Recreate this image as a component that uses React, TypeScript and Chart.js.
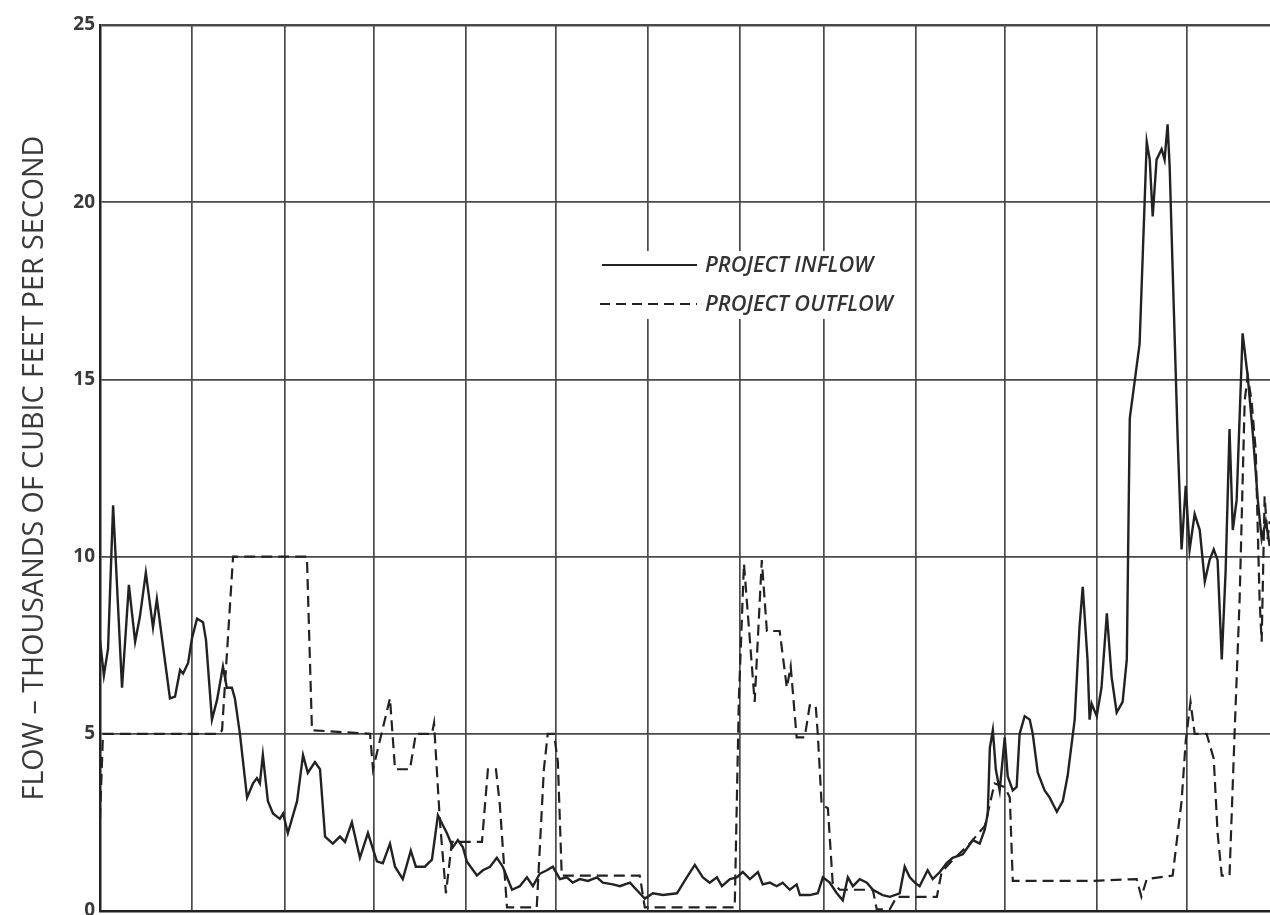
import React, { useEffect, useRef } from "react";
import { Chart, registerables } from "chart.js";

Chart.register(...registerables);

// Day index (0 = start of first month) and flow (thousands of cfs)
const inflowDays = [
  0.0, 1.3, 2.7, 4.4, 7.4, 9.7, 11.8, 13.4, 15.4, 17.8, 19.1, 21.2, 23.5, 25.2, 26.9, 27.9, 29.6, 30.9, 32.6, 34.6,
  35.6, 37.6, 39.3, 41.3, 42.6, 44.3, 45.3, 47.0, 49.4, 51.4, 52.7, 53.7, 54.7, 56.4, 58.1, 60.4, 61.5, 63.1, 66.2, 68.2,
  69.8, 72.2, 73.9, 75.6, 78.2, 80.6, 82.3, 84.6, 87.3, 90.0, 93.0, 95.0, 97.4, 99.1, 101.7, 104.4, 106.1, 109.1, 111.5, 113.5,
  116.5, 118.5, 120.2, 121.9, 123.2, 126.6, 128.6, 131.0, 133.3, 135.3, 138.4, 141.0, 143.4, 145.4, 147.7, 150.1, 152.1, 154.5, 156.8, 158.8,
  161.2, 163.9, 166.9, 168.9, 172.3, 174.6, 178.0, 181.3, 183.0, 185.7, 189.1, 193.8, 197.1, 199.8, 202.5, 204.8, 207.2, 208.9, 211.6, 213.9,
  215.9, 218.3, 221.0, 222.6, 225.0, 227.3, 229.3, 231.7, 234.0, 235.1, 238.4, 241.1, 242.8, 245.1, 247.5, 249.5, 251.2, 252.9, 255.2, 257.6,
  259.6, 262.9, 265.3, 268.6, 270.3, 272.0, 273.7, 275.3, 278.0, 279.7, 282.1, 284.4, 286.4, 289.8, 293.2, 295.5, 297.2, 298.2, 298.9, 299.9,
  300.9, 302.2, 303.9, 304.9, 306.6, 307.9, 308.9, 310.6, 312.3, 313.3, 315.0, 317.3, 319.0, 321.4, 323.4, 325.0, 327.4, 329.0, 330.1, 331.7,
  332.4, 333.1, 334.8, 336.4, 338.2, 339.8, 341.5, 343.5, 344.9, 345.9, 349.2, 351.6, 352.6, 353.6, 354.9, 356.6, 357.6, 358.6, 359.3, 360.3,
  362.0, 363.3, 364.7, 366.0, 367.7, 369.4, 371.1, 372.7, 374.1, 375.4, 376.8, 378.1, 379.4, 380.5, 381.8, 383.8, 385.5, 387.2, 388.9, 390.2,
  391.6, 392.9,
];
const inflowFlow = [
  7.65, 6.65, 7.4, 11.45, 6.3, 9.2, 7.6, 8.3, 9.55, 8.0, 8.8, 7.45, 6.0, 6.05, 6.8, 6.7, 7.0, 7.7, 8.25, 8.15,
  7.65, 5.4, 5.95, 6.9, 6.3, 6.3, 6.0, 5.0, 3.2, 3.6, 3.75, 3.6, 4.4, 3.1, 2.75, 2.6, 2.75, 2.2, 3.1, 4.4,
  3.9, 4.2, 4.0, 2.1, 1.9, 2.1, 1.95, 2.5, 1.5, 2.2, 1.4, 1.35, 1.9, 1.25, 0.9, 1.7, 1.25, 1.25, 1.45, 2.7,
  2.2, 1.8, 2.0, 1.8, 1.4, 1.0, 1.15, 1.25, 1.5, 1.25, 0.6, 0.7, 0.95, 0.7, 1.05, 1.15, 1.25, 0.9, 0.95, 0.8,
  0.9, 0.85, 0.95, 0.8, 0.75, 0.7, 0.8, 0.5, 0.35, 0.5, 0.45, 0.5, 0.95, 1.3, 0.95, 0.8, 0.95, 0.7, 0.9, 0.95,
  1.1, 0.9, 1.1, 0.75, 0.8, 0.7, 0.8, 0.6, 0.75, 0.45, 0.45, 0.5, 0.95, 0.8, 0.5, 0.3, 0.95, 0.7, 0.9, 0.8,
  0.6, 0.45, 0.4, 0.5, 1.25, 0.95, 0.8, 0.7, 1.15, 0.9, 1.1, 1.35, 1.5, 1.6, 2.0, 1.9, 2.3, 2.75, 4.6, 5.1,
  4.0, 3.4, 4.9, 3.8, 3.4, 3.5, 5.0, 5.5, 5.4, 5.0, 3.9, 3.4, 3.2, 2.8, 3.1, 3.8, 5.4, 8.0, 9.15, 7.1,
  5.4, 5.85, 5.5, 6.3, 8.4, 6.6, 5.6, 5.9, 7.1, 13.9, 16.0, 21.7, 21.2, 19.6, 21.2, 21.5, 21.2, 22.2, 21.0, 18.1,
  13.3, 10.2, 12.0, 10.2, 11.2, 10.75, 9.3, 9.9, 10.2, 9.9, 7.1, 9.6, 13.6, 10.75, 11.6, 16.3, 15.1, 13.5, 11.6, 10.5,
  11.0, 10.3,
];

const outflowDays = [
  0.0, 1.0, 40.0, 41.0, 44.7, 69.5, 71.2, 90.7, 91.7, 97.4, 99.1, 104.1, 106.1, 111.5, 112.2, 114.2, 116.2, 118.2, 128.3, 130.3,
  133.0, 134.3, 136.7, 146.7, 149.1, 150.4, 152.5, 153.8, 155.1, 181.3, 183.0, 213.2, 214.6, 216.3, 219.9, 222.3, 224.0, 228.3, 230.7, 232.0,
  233.4, 234.0, 236.7, 238.4, 240.4, 241.1, 242.4, 244.5, 246.1, 248.5, 259.6, 260.9, 265.3, 267.6, 281.1, 282.7, 285.4, 292.1, 297.2, 300.5,
  303.9, 305.6, 306.6, 333.4, 348.2, 349.8, 351.6, 360.3, 363.3, 364.7, 366.3, 367.7, 371.7, 374.1, 375.4, 376.8, 379.4, 381.1, 382.8, 384.5,
  385.5, 386.8, 388.2, 389.5, 390.2, 391.2, 392.2, 392.9,
];
const outflowFlow = [
  2.6, 5.0, 5.0, 5.1, 10.0, 10.0, 5.1, 5.0, 4.0, 6.0, 4.0, 4.0, 5.0, 5.0, 5.3, 2.5, 0.5, 1.95, 1.95, 4.0,
  4.0, 3.0, 0.1, 0.1, 4.0, 5.0, 5.0, 4.2, 1.0, 1.0, 0.1, 0.1, 6.0, 9.8, 5.9, 9.9, 7.9, 7.9, 6.3, 6.9,
  5.5, 4.9, 4.9, 5.8, 5.8, 5.0, 3.0, 2.9, 0.8, 0.6, 0.6, 0.05, 0.05, 0.4, 0.4, 1.1, 1.35, 1.9, 2.4, 3.6,
  3.5, 3.2, 0.85, 0.85, 0.9, 0.4, 0.9, 1.0, 3.1, 4.8, 5.9, 5.0, 5.0, 4.3, 2.2, 1.0, 1.0, 5.0, 8.8, 14.4,
  15.1, 14.4, 13.0, 8.8, 7.6, 11.7, 10.5, 11.0,
];

const monthBoundaryDays = [0, 31, 62, 92, 123, 153, 184, 215, 243, 274, 304, 335, 365];
const flowTicks = [0, 5, 10, 15, 20, 25];
const seriesLabels = ["PROJECT INFLOW", "PROJECT OUTFLOW"];
const yAxisTitle = "FLOW \u2013 THOUSANDS OF CUBIC FEET PER SECOND";
const X_MAX = 393;

const INK = "#222222";
const GRID = "#4a4a4a";
const FAMILY = "'Open Sans', 'DejaVu Sans', sans-serif";

function fitFontSize(text: string, font: (s: number) => string, target: number): number {
  const c = document.createElement("canvas").getContext("2d")!;
  c.font = font(20);
  const w = c.measureText(text).width || 1;
  return (20 * target) / w;
}

const legendPlugin = {
  id: "boxLegend",
  beforeDatasetsDraw(chart: any) {
    const ctx = chart.ctx;
    ctx.save();
    ctx.fillStyle = "#ffffff";
    ctx.fillRect(592, 251, 314, 68);
    ctx.restore();
  },
  afterDatasetsDraw(chart: any) {
    const ctx = chart.ctx;
    const fontFn = (s: number) => `italic 600 ${s}px ${FAMILY}`;
    const size = fitFontSize(seriesLabels[1], fontFn, 188);
    ctx.save();
    ctx.strokeStyle = INK;
    ctx.lineWidth = 2.2;
    ctx.beginPath();
    ctx.moveTo(602, 265);
    ctx.lineTo(697, 265);
    ctx.stroke();
    ctx.setLineDash([10, 6]);
    ctx.beginPath();
    ctx.moveTo(600, 304);
    ctx.lineTo(697, 304);
    ctx.stroke();
    ctx.setLineDash([]);
    ctx.fillStyle = "#333";
    ctx.font = fontFn(size);
    ctx.textBaseline = "middle";
    ctx.textAlign = "left";
    ctx.fillText(chart.data.datasets[0].label, 705, 266);
    ctx.fillText(chart.data.datasets[1].label, 705, 305);
    ctx.restore();
  },
};

export default function App() {
  const ref = useRef<HTMLCanvasElement | null>(null);

  useEffect(() => {
    if (!ref.current) return;
    const titleFont = (s: number) => `400 ${s}px ${FAMILY}`;
    const titleSize = fitFontSize(yAxisTitle, titleFont, 665);

    const chart = new Chart(ref.current, {
      type: "line",
      data: {
        datasets: [
          {
            label: seriesLabels[0],
            data: inflowDays.map((d, i) => ({ x: d, y: inflowFlow[i] })),
            borderColor: INK,
            borderWidth: 2.4,
            pointRadius: 0,
            tension: 0,
            fill: false,
          },
          {
            label: seriesLabels[1],
            data: outflowDays.map((d, i) => ({ x: d, y: outflowFlow[i] })),
            borderColor: INK,
            borderWidth: 2.2,
            borderDash: [11, 6],
            pointRadius: 0,
            tension: 0,
            fill: false,
          },
        ],
      },
      options: {
        animation: false,
        responsive: false,
        maintainAspectRatio: false,
        layout: { padding: { top: 25, bottom: 4, left: 0, right: 0 } },
        plugins: { legend: { display: false }, tooltip: { enabled: false } },
        scales: {
          x: {
            type: "linear",
            min: 0,
            max: X_MAX,
            afterBuildTicks: (s: any) => {
              s.ticks = monthBoundaryDays.map((v) => ({ value: v }));
            },
            afterFit: (s: any) => {
              s.height = 0;
              s.paddingLeft = 0;
              s.paddingRight = 0;
            },
            ticks: { display: false },
            grid: { color: GRID, lineWidth: 1.7, drawTicks: false },
            border: { display: true, color: INK, width: 2.5 },
          },
          y: {
            type: "linear",
            min: 0,
            max: 25,
            afterBuildTicks: (s: any) => {
              s.ticks = flowTicks.map((v) => ({ value: v }));
            },
            afterFit: (s: any) => {
              s.width = 100;
              s.paddingTop = 0;
              s.paddingBottom = 0;
            },
            ticks: {
              color: "#3a3a3a",
              padding: 5,
              font: { family: FAMILY, size: 19, weight: "bold" },
            },
            grid: {
              color: GRID,
              lineWidth: (c: any) => (c.tick && c.tick.value === 25 ? 2.5 : 1.7),
              drawTicks: false,
            },
            border: { display: true, color: INK, width: 2.5 },
            title: {
              display: true,
              text: yAxisTitle,
              color: "#3a3a3a",
              font: { family: FAMILY, size: titleSize, weight: "normal" },
              padding: { top: 18, bottom: 0 },
            },
          },
        },
      },
      plugins: [legendPlugin],
    } as any);

    return () => chart.destroy();
  }, []);

  return (
    <div style={{ position: "absolute", left: 0, top: 0, width: 1270, height: 915, background: "#fff" }}>
      <canvas ref={ref} width={1270} height={915} style={{ display: "block" }} />
    </div>
  );
}
